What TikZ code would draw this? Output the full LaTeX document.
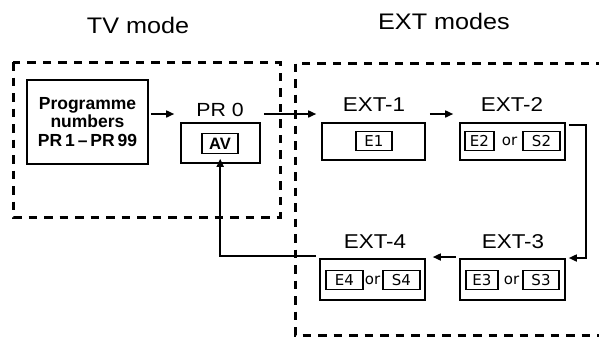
\documentclass[tikz,border=0pt]{standalone}
\usepackage{fontspec}
\usetikzlibrary{arrows.meta}
\newfontfamily\arialf[FakeStretch=1.12]{Liberation Sans}
\newfontfamily\arialb{Liberation Sans}
\newfontfamily\dinf{DejaVu Sans}
\tikzset{
  box/.style={draw, line width=1.6pt, rectangle, inner sep=0pt},
  inbox/.style={draw, line width=1.4pt, rectangle, inner sep=0pt, minimum height=19.5pt, font=\dinf\fontsize{15}{15}\selectfont},
  ortext/.style={inner sep=0pt, font=\dinf\fontsize{15}{15}\selectfont},
  lbl/.style={inner sep=0pt, font=\arialf\fontsize{20}{20}\selectfont},
  ttl/.style={inner sep=0pt, font=\arialf\fontsize{22.5}{22.5}\selectfont},
  arr/.style={line width=1.6pt, -{Triangle[length=8pt,width=7pt]}},
  dsh/.style={line width=3pt, dash pattern=on 8.5pt off 7pt},
}
\begin{document}
\begin{tikzpicture}[x=1pt,y=-1pt]
\useasboundingbox (0,0) rectangle (599,341);
\fill[white] (0,0) rectangle (599,341);
% titles
\node[ttl] (ttv) at (138,25) {TV mode};
\node[ttl] (text) at (444,21) {EXT modes};
% dashed frames
\draw[dsh] (13,62) rectangle (280,217);
\draw[dsh] (620,63) -| (295,335) -- (620,335);
% TV boxes
\node[box, minimum width=121pt, minimum height=84pt, align=center,
  font=\arialb\bfseries\fontsize{17.5}{18.7}\selectfont] (prog) at (87.5,122)
  {Programme\\numbers\\PR\,1\,–\,PR\,99};
\node[lbl, font=\arialf\fontsize{19}{19}\selectfont] (pr0lbl) at (220,110) {PR 0};
\node[box, minimum width=79pt, minimum height=40pt] (pr0) at (220.5,143) {};
\node[box, line width=1.4pt, minimum width=36pt, minimum height=20pt,
  font=\arialb\bfseries\fontsize{16.5}{16.5}\selectfont] (av) at (220,143.5) {AV};
% EXT-1
\node[lbl] (l1) at (374,105) {EXT-1};
\node[box, minimum width=103pt, minimum height=37pt] (x1) at (373.5,141.5) {};
\node[inbox, minimum width=36pt] (e1) at (374,141) {E1};
% EXT-2
\node[lbl] (l2) at (512,105) {EXT-2};
\node[box, minimum width=105pt, minimum height=37pt] (x2) at (512.5,141.5) {};
\node[inbox, minimum width=29pt] (e2) at (479.5,141) {E2};
\node[ortext] (o2) at (509.5,141.5) {or};
\node[inbox, minimum width=37pt] (s2) at (541.5,141) {S2};
% EXT-3
\node[lbl] (l3) at (513,242) {EXT-3};
\node[box, minimum width=105pt, minimum height=41pt] (x3) at (512.5,279.5) {};
\node[inbox, minimum width=32pt] (e3) at (482,280) {E3};
\node[ortext] (o3) at (511.5,280) {or};
\node[inbox, minimum width=36pt] (s3) at (541,280) {S3};
% EXT-4
\node[lbl] (l4) at (375,242) {EXT-4};
\node[box, minimum width=105pt, minimum height=41pt] (x4) at (372.5,279.5) {};
\node[inbox, minimum width=37pt] (e4) at (344.5,280) {E4};
\node[ortext] (o4) at (372.5,280) {or};
\node[inbox, minimum width=37pt] (s4) at (401.5,280) {S4};
% connectors
\draw[arr] ([shift={(2,-8)}]prog.east) -- ([shift={(-6,-8)}]prog.east -| pr0.west);
\draw[arr] ([shift={(3,-29)}]pr0.east) -- ([shift={(-5,-29)}]pr0.east -| x1.west);
\draw[arr] ([shift={(4,-27.5)}]x1.east) -- ([shift={(-6,-27.5)}]x1.east -| x2.west);
\coordinate (c2) at ([shift={(20,-16.5)}]x2.east);
\draw[arr] ([shift={(3,-16.5)}]x2.east) -- (c2) |- ([shift={(3,-21.5)}]x3.east);
\draw[arr] ([shift={(-3,-22.5)}]x3.west) -- ([shift={(7,-22.5)}]x4.east);
\coordinate (c4) at ([shift={(-99,-23.5)}]x4.west);
\draw[arr] ([shift={(-3,-23.5)}]x4.west) -- (c4) -- ([yshift=5pt]pr0.south -| c4);
\end{tikzpicture}
\end{document}
